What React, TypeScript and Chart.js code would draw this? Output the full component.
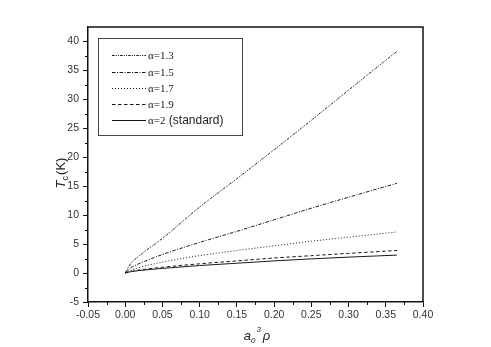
import React, { useEffect, useRef } from "react";
import { Chart, registerables } from "chart.js";

Chart.register(...registerables);

const xValues = [0, 0.005, 0.01, 0.02, 0.05, 0.1, 0.15, 0.2, 0.25, 0.3, 0.365];
const alpha13 = [0, 1.2, 2.0, 3.1, 6.0, 11.4, 16.3, 21.3, 26.4, 31.6, 38.3];
const alpha15 = [0, 0.7, 1.1, 1.7, 3.2, 5.3, 7.2, 9.2, 11.2, 13.1, 15.5];
const alpha17 = [0, 0.4, 0.6, 1.0, 1.9, 3.0, 3.9, 4.7, 5.5, 6.2, 7.1];
const alpha19 = [0, 0.22, 0.35, 0.55, 1.0, 1.6, 2.1, 2.6, 3.0, 3.4, 3.9];
const alpha20 = [0, 0.18, 0.28, 0.45, 0.8, 1.3, 1.7, 2.1, 2.45, 2.75, 3.1];

const seriesLabels = ["α=1.3", "α=1.5", "α=1.7", "α=1.9", "α=2 (standard)"];
const xTicks = [-0.05, 0, 0.05, 0.1, 0.15, 0.2, 0.25, 0.3, 0.35, 0.4];
const yTicks = [-5, 0, 5, 10, 15, 20, 25, 30, 35, 40];
const xMinorTicks = [-0.025, 0.025, 0.075, 0.125, 0.175, 0.225, 0.275, 0.325, 0.375];
const yMinorTicks = [-2.5, 2.5, 7.5, 12.5, 17.5, 22.5, 27.5, 32.5, 37.5];

const dashes = [
  [2.5, 1.2, 1, 1.2, 1, 1.2],
  [3.5, 1.5, 1, 1.5],
  [1, 2],
  [3.5, 2.5],
  [],
];

const AXIS = "#111";
const TICKTXT = "#333";

const decorPlugin = {
  id: "decor",
  afterDraw(chart: any) {
    const { ctx, chartArea } = chart;
    const xs = chart.scales.x;
    const ys = chart.scales.y;
    ctx.save();
    ctx.strokeStyle = AXIS;
    ctx.lineWidth = 1.5;
    ctx.beginPath();
    ctx.moveTo(chartArea.left, chartArea.top);
    ctx.lineTo(chartArea.right, chartArea.top);
    ctx.lineTo(chartArea.right, chartArea.bottom);
    ctx.stroke();
    ctx.lineWidth = 1;
    ctx.beginPath();
    xMinorTicks.forEach((v) => {
      const px = Math.round(xs.getPixelForValue(v)) + 0.5;
      ctx.moveTo(px, chartArea.bottom);
      ctx.lineTo(px, chartArea.bottom + 3);
    });
    yMinorTicks.forEach((v) => {
      const py = Math.round(ys.getPixelForValue(v)) + 0.5;
      ctx.moveTo(chartArea.left, py);
      ctx.lineTo(chartArea.left - 3, py);
    });
    ctx.stroke();

    // Y title: T_c(K)
    ctx.fillStyle = "#222";
    ctx.textBaseline = "alphabetic";
    ctx.textAlign = "left";
    const fT = "italic 13px 'Liberation Sans'";
    const fSub = "9px 'Liberation Sans'";
    const fK = "13px 'Liberation Sans'";
    ctx.font = fT;
    const wT = ctx.measureText("T").width;
    ctx.font = fSub;
    const wc = ctx.measureText("c").width;
    ctx.font = fK;
    const wK = ctx.measureText("(K)").width;
    const total = wT + wc + 1 + wK;
    ctx.save();
    ctx.translate(65, 173);
    ctx.rotate(-Math.PI / 2);
    let cx = -total / 2;
    ctx.font = fT;
    ctx.fillText("T", cx, 0);
    cx += wT;
    ctx.font = fSub;
    ctx.fillText("c", cx, 3);
    cx += wc + 1;
    ctx.font = fK;
    ctx.fillText("(K)", cx, 0);
    ctx.restore();

    // X title: a_0^3 rho
    const fa = "italic 13px 'Liberation Sans'";
    const fs = "italic 8px 'Liberation Sans'";
    ctx.font = fa;
    const wa = ctx.measureText("a").width;
    const wr = ctx.measureText("ρ").width;
    ctx.font = fs;
    const w0 = ctx.measureText("0").width;
    const w3 = ctx.measureText("3").width;
    const tot2 = wa + w0 + w3 + 3 + wr;
    let x0 = 257 - tot2 / 2;
    const base = 340;
    ctx.font = fa;
    ctx.fillText("a", x0, base);
    x0 += wa;
    ctx.font = fs;
    ctx.fillText("0", x0, base + 3);
    x0 += w0 + 1;
    ctx.fillText("3", x0, base - 8);
    x0 += w3 + 2;
    ctx.font = fa;
    ctx.fillText("ρ", x0, base);

    // Legend
    const bx = 98, by = 38, bw = 144, bh = 97;
    ctx.strokeStyle = "#444";
    ctx.lineWidth = 1;
    ctx.strokeRect(bx + 0.5, by + 0.5, bw, bh);
    const rowY = [55, 72, 88, 104, 120];
    chart.data.datasets.forEach((ds: any, i: number) => {
      const y = rowY[i] + 0.5;
      ctx.strokeStyle = "#111";
      ctx.lineWidth = 1;
      ctx.setLineDash(ds.borderDash || []);
      ctx.beginPath();
      ctx.moveTo(112, y);
      ctx.lineTo(146, y);
      ctx.stroke();
      ctx.setLineDash([]);
      ctx.fillStyle = "#222";
      ctx.textBaseline = "middle";
      const label: string = ds.label;
      const idx = label.indexOf(" (");
      const first = idx >= 0 ? label.slice(0, idx) : label;
      const rest = idx >= 0 ? label.slice(idx) : "";
      ctx.font = "11px 'Liberation Serif'";
      ctx.fillText(first, 148, y + 0.5);
      const wf = ctx.measureText(first).width;
      if (rest) {
        ctx.font = "12px 'Liberation Sans'";
        ctx.fillText(rest, 148 + wf, y + 0.5);
      }
    });
    ctx.restore();
  },
};

export default function App() {
  const ref = useRef<HTMLCanvasElement | null>(null);
  useEffect(() => {
    document.body.style.margin = "0";
    if (!ref.current) return;
    const seriesValues = [alpha13, alpha15, alpha17, alpha19, alpha20];
    const chart = new Chart(ref.current, {
      type: "line",
      data: {
        datasets: seriesValues.map((vals, i) => ({
          label: seriesLabels[i],
          data: vals.map((v, j) => ({ x: xValues[j], y: v })),
          borderColor: "#1a1a1a",
          borderWidth: 1,
          borderDash: dashes[i],
          pointRadius: 0,
          fill: false,
          cubicInterpolationMode: "monotone" as const,
        })),
      },
      options: {
        animation: false,
        responsive: false,
        maintainAspectRatio: false,
        layout: { padding: { left: 0, top: 27, right: 68, bottom: 0 } },
        plugins: { legend: { display: false }, tooltip: { enabled: false } },
        scales: {
          x: {
            type: "linear",
            min: -0.05,
            max: 0.4,
            afterBuildTicks: (scale: any) => {
              scale.ticks = xTicks.map((v) => ({ value: v }));
            },
            afterFit: (scale: any) => {
              scale.height = 45;
            },
            ticks: {
              color: TICKTXT,
              font: { family: "'Liberation Sans'", size: 10.5 },
              padding: 2,
              maxRotation: 0,
              autoSkip: false,
              callback: (v: any) => Number(v).toFixed(2),
            },
            grid: {
              drawOnChartArea: false,
              drawTicks: true,
              tickLength: 5,
              tickColor: AXIS,
              tickWidth: 1,
            },
            border: { display: true, color: AXIS, width: 1.5 },
          },
          y: {
            type: "linear",
            min: -5,
            max: 42.5,
            afterBuildTicks: (scale: any) => {
              scale.ticks = yTicks.map((v) => ({ value: v }));
            },
            afterFit: (scale: any) => {
              scale.width = 88;
            },
            ticks: {
              color: TICKTXT,
              font: { family: "'Liberation Sans'", size: 10.5 },
              padding: 4,
              autoSkip: false,
              callback: (v: any) => String(v),
            },
            grid: {
              drawOnChartArea: false,
              drawTicks: true,
              tickLength: 5,
              tickColor: AXIS,
              tickWidth: 1,
            },
            border: { display: true, color: AXIS, width: 1.5 },
          },
        },
      },
      plugins: [decorPlugin],
    });
    return () => chart.destroy();
  }, []);
  return (
    <div style={{ position: "fixed", left: 0, top: 0, width: 491, height: 347, background: "#fff" }}>
      <canvas ref={ref} width={491} height={347} style={{ width: 491, height: 347 }} />
    </div>
  );
}
